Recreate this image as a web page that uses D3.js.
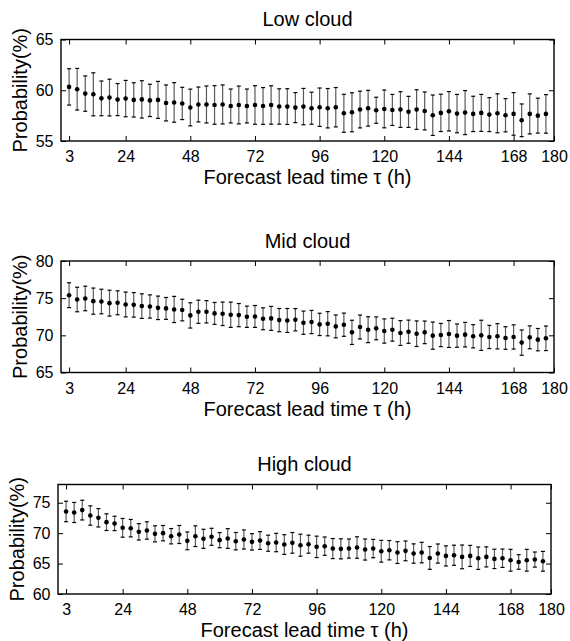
<!DOCTYPE html>
<html>
<head>
<meta charset="utf-8">
<script src="https://cdn.jsdelivr.net/npm/d3@7"></script>
<style>
    body { margin: 0; background: #fff; }
    text { font-family: 'Liberation Sans', Arial, sans-serif; fill: #000; }
</style>
</head>
<body>
<svg id="chart" width="570" height="641"></svg>
<script>
// ------- Data -------

const leadTimes = [3, 6, 9, 12, 15, 18, 21, 24, 27, 30, 33, 36, 39, 42, 45, 48, 51, 54, 57, 60,
    63, 66, 69, 72, 75, 78, 81, 84, 87, 90, 93, 96, 99, 102, 105, 108, 111, 114, 117, 120,
    123, 126, 129, 132, 135, 138, 141, 144, 147, 150, 153, 156, 159, 162, 165, 168, 171, 174, 177, 180];

// tick positions are in lead-time units, the last one sits on the right edge
const tickPositions = [3, 24, 48, 72, 96, 120, 144, 168, 183];
const tickLabels = ['3', '24', '48', '72', '96', '120', '144', '168', '180'];

const lowMean = [60.33, 60.1, 59.67, 59.6, 59.2, 59.28, 59.08, 59.18, 59.05, 59.1,
    59.0, 59.05, 58.75, 58.8, 58.7, 58.3, 58.6, 58.6, 58.55, 58.6,
    58.45, 58.55, 58.45, 58.55, 58.45, 58.55, 58.4, 58.39, 58.29, 58.39,
    58.23, 58.33, 58.23, 58.33, 57.73, 57.83, 58.1, 58.23, 58.03, 58.16,
    58.06, 58.1, 57.87, 58.1, 57.96, 57.54, 57.77, 57.93, 57.7, 57.8,
    57.67, 57.77, 57.6, 57.73, 57.54, 57.67, 57.04, 57.67, 57.5, 57.67];
const lowStd = [1.79, 2.05, 1.74, 2.12, 1.71, 1.81, 1.58, 1.79, 1.69, 1.84,
    1.59, 1.82, 1.77, 1.95, 1.59, 1.81, 1.72, 1.82, 1.9, 1.92,
    1.67, 1.86, 1.67, 1.9, 1.81, 1.89, 1.74, 1.76, 1.48, 1.79,
    1.58, 1.89, 1.94, 1.94, 1.87, 1.92, 1.81, 1.76, 1.28, 1.86,
    1.53, 1.76, 1.53, 1.95, 1.87, 1.99, 1.84, 1.94, 1.89, 2.17,
    1.74, 1.82, 1.67, 1.92, 1.64, 2.1, 1.61, 1.97, 1.72, 1.9];

const midMean = [75.4, 74.82, 74.96, 74.6, 74.55, 74.33, 74.38, 74.15, 74.1, 73.93,
    73.88, 73.7, 73.62, 73.48, 73.4, 72.68, 73.17, 73.17, 72.95, 72.9,
    72.77, 72.72, 72.5, 72.54, 72.23, 72.28, 72.05, 72.0, 72.1, 71.7,
    71.79, 71.47, 71.56, 71.2, 71.43, 70.4, 71.12, 70.76, 70.94, 70.58,
    70.76, 70.31, 70.49, 70.22, 70.4, 69.96, 70.04, 70.18, 69.96, 70.09,
    69.87, 70.0, 69.78, 69.87, 69.64, 69.78, 69.02, 69.73, 69.42, 69.6];
const midStd = [1.67, 1.65, 1.65, 1.76, 1.65, 1.74, 1.61, 1.67, 1.65, 1.65,
    1.56, 1.58, 1.47, 1.76, 1.45, 1.7, 1.56, 1.5, 1.47, 1.58,
    1.7, 1.56, 1.43, 1.47, 1.47, 1.61, 1.56, 1.61, 1.5, 1.56,
    1.56, 1.5, 1.63, 1.54, 1.56, 1.63, 1.61, 1.74, 1.54, 1.63,
    1.54, 1.67, 1.56, 1.72, 1.52, 1.83, 1.56, 1.81, 1.56, 1.65,
    1.56, 2.03, 1.56, 1.7, 1.52, 1.63, 1.7, 1.54, 1.5, 1.65];

const highMean = [73.57, 73.4, 73.79, 72.9, 72.53, 71.81, 71.6, 70.88, 70.82, 70.22,
    70.44, 69.89, 70.0, 69.5, 69.78, 68.74, 69.5, 69.07, 69.4, 68.85,
    69.12, 68.68, 68.96, 68.57, 68.79, 68.35, 68.46, 68.13, 68.41, 68.02,
    68.19, 67.75, 67.86, 67.47, 67.42, 67.47, 67.64, 67.31, 67.47, 67.03,
    67.2, 66.81, 67.09, 66.65, 66.81, 65.93, 66.65, 66.26, 66.37, 66.1,
    66.26, 65.88, 66.1, 65.77, 65.88, 65.55, 65.27, 65.55, 65.66, 65.38];
const highStd = [1.68, 1.65, 1.62, 1.59, 1.51, 1.37, 1.18, 1.54, 1.43, 1.35,
    1.43, 1.32, 1.26, 1.26, 1.48, 1.46, 1.7, 1.57, 1.4, 1.24,
    1.62, 1.43, 1.57, 1.35, 1.46, 1.32, 1.51, 1.62, 1.7, 1.81,
    1.48, 1.76, 1.51, 1.65, 1.65, 1.57, 1.76, 1.73, 1.51, 1.79,
    1.59, 1.79, 1.62, 1.59, 1.68, 1.87, 1.57, 1.65, 1.65, 1.95,
    1.73, 1.84, 1.65, 1.59, 1.51, 1.79, 1.2, 1.79, 1.24, 1.62];

const titles = ['Low cloud', 'Mid cloud', 'High cloud'];
const yDomains = [[55, 65], [65, 80], [60, 78]];
const yTicks = [[55, 60, 65], [65, 70, 75, 80], [60, 65, 70, 75]];

// ------- Panel layout -------

const boxes = [
    {left: 61, right: 554, top: 39.5, bottom: 141},
    {left: 61, right: 554, top: 261, bottom: 372.5},
    {left: 58, right: 551, top: 484.5, bottom: 594}
];

const panels = [
    {title: titles[0], mean: lowMean, std: lowStd, domain: yDomains[0], ticks: yTicks[0], box: boxes[0]},
    {title: titles[1], mean: midMean, std: midStd, domain: yDomains[1], ticks: yTicks[1], box: boxes[1]},
    {title: titles[2], mean: highMean, std: highStd, domain: yDomains[2], ticks: yTicks[2], box: boxes[2]}
];

const svg = d3.select('#chart');
svg.append('rect').attr('width', 570).attr('height', 641).attr('fill', '#fff');

const drawPanel = (parent, p) => {
    const {left, right, top, bottom} = p.box;
    const w = right - left;
    const h = bottom - top;

    const g = parent.append('g')
        .attr('transform', `translate(${left}, ${top})`);

    const x = d3.scaleLinear().domain([0, 183]).range([0, w]);
    const y = d3.scaleLinear().domain(p.domain).range([h, 0]);

    const data = leadTimes.map((t, i) => ({t, mean: p.mean[i], std: p.std[i]}));

    // ------- Axes, ticks pointing inwards on all four sides -------

    const fmt = (d) => tickLabels[tickPositions.indexOf(d)];

    const xBottom = g.append('g')
        .attr('transform', `translate(0, ${h})`)
        .call(d3.axisBottom(x).tickValues(tickPositions).tickFormat(fmt)
            .tickSizeInner(-5).tickSizeOuter(0).tickPadding(10));

    const xTop = g.append('g')
        .call(d3.axisTop(x).tickValues(tickPositions).tickFormat('')
            .tickSizeInner(-5).tickSizeOuter(0));

    const yLeft = g.append('g')
        .call(d3.axisLeft(y).tickValues(p.ticks).tickFormat(d3.format('d'))
            .tickSizeInner(-5).tickSizeOuter(0).tickPadding(7.5));

    const yRight = g.append('g')
        .attr('transform', `translate(${w}, 0)`)
        .call(d3.axisRight(y).tickValues(p.ticks).tickFormat('')
            .tickSizeInner(-5).tickSizeOuter(0));

    [xBottom, xTop, yLeft, yRight].forEach(a => {
        a.select('.domain').remove();
        a.selectAll('line').attr('stroke', '#000').attr('stroke-width', 1);
        a.selectAll('text')
            .style('font-family', "'Liberation Sans', Arial, sans-serif")
            .style('font-size', '16px')
            .attr('fill', '#000');
    });

    // ------- Error bars -------

    const bars = g.append('g').attr('class', 'error-bars');

    const bar = bars.selectAll('g.bar')
        .data(data)
        .enter()
        .append('g')
            .attr('class', 'bar')
            .attr('stroke', '#5a5a5a')
            .attr('stroke-width', 1.2);

    bar.append('line')
        .attr('x1', d => x(d.t))
        .attr('x2', d => x(d.t))
        .attr('y1', d => y(d.mean + d.std))
        .attr('y2', d => y(d.mean - d.std));

    bar.append('line')
        .attr('x1', d => x(d.t) - 2)
        .attr('x2', d => x(d.t) + 2)
        .attr('y1', d => y(d.mean + d.std))
        .attr('y2', d => y(d.mean + d.std))
        .attr('stroke', '#000');

    bar.append('line')
        .attr('x1', d => x(d.t) - 2)
        .attr('x2', d => x(d.t) + 2)
        .attr('y1', d => y(d.mean - d.std))
        .attr('y2', d => y(d.mean - d.std))
        .attr('stroke', '#000');

    // ------- Mean points -------

    g.append('g')
        .selectAll('circle')
        .data(data)
        .enter()
        .append('circle')
            .attr('cx', d => x(d.t))
            .attr('cy', d => y(d.mean))
            .attr('r', 2.3)
            .attr('fill', '#000');

    // ------- Box -------

    g.append('rect')
        .attr('width', w)
        .attr('height', h)
        .attr('fill', 'none')
        .attr('stroke', '#000')
        .attr('stroke-width', 1.4);

    // ------- Labels -------

    g.append('text')
        .attr('x', w / 2)
        .attr('y', -13.5)
        .attr('text-anchor', 'middle')
        .style('font-size', '20px')
        .text(p.title);

    g.append('text')
        .attr('x', w / 2)
        .attr('y', h + 43)
        .attr('text-anchor', 'middle')
        .style('font-size', '20px')
        .text('Forecast lead time τ (h)');

    g.append('text')
        .attr('transform', `translate(-34.5, ${h / 2}) rotate(-90)`)
        .attr('text-anchor', 'middle')
        .style('font-size', '20px')
        .text('Probability(%)');
};

panels.forEach(p => drawPanel(svg, p));
</script>
</body>
</html>
